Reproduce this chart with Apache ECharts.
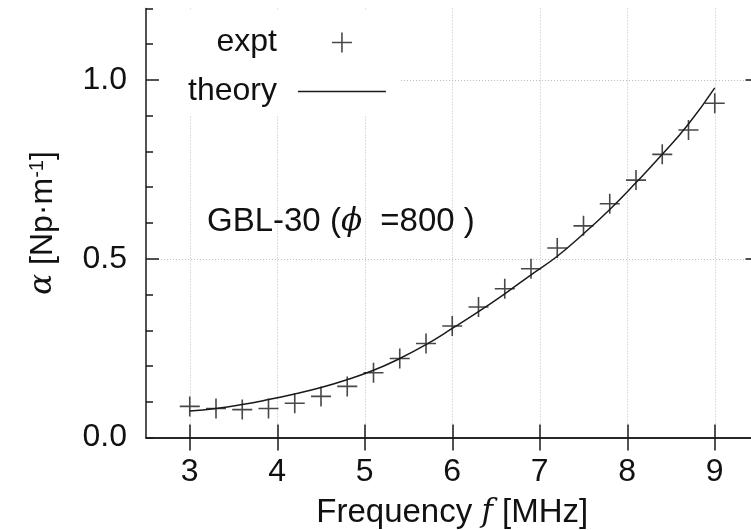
<!DOCTYPE html>
<html>
<head>
<meta charset="utf-8">
<script src="https://cdn.jsdelivr.net/npm/echarts@6/dist/echarts.min.js"></script>
<style>html,body{margin:0;padding:0;background:#fff}#c{width:751px;height:530px}</style>
</head>
<body>
<div id="c"></div>
<script>
// ---- data ----
const freq = [3.0, 3.3, 3.6, 3.9, 4.2, 4.5, 4.8, 5.1, 5.4, 5.7, 6.0, 6.3, 6.6, 6.9, 7.2, 7.5, 7.8, 8.1, 8.4, 8.7, 9.0];
const expt = [0.087, 0.081, 0.078, 0.081, 0.096, 0.115, 0.143, 0.181, 0.221, 0.263, 0.312, 0.365, 0.416, 0.472, 0.530, 0.592, 0.654, 0.720, 0.792, 0.860, 0.935];
const theory = [0.074, 0.081, 0.092, 0.106, 0.122, 0.140, 0.162, 0.188, 0.221, 0.260, 0.305, 0.352, 0.402, 0.455, 0.507, 0.570, 0.638, 0.713, 0.792, 0.877, 0.978];
const xTicks = [3, 4, 5, 6, 7, 8, 9];
const yLabels = [0, 0.5, 1.0];
const seriesNames = ['expt', 'theory'];
const annotation = 'GBL-30 (';
const annotation2 = '  =800 )';

// ---- layout ----
const L = 146, T = 8.5, W = 612.5, H = 429;
const xMin = 2.5, xMax = 9.5, yMin = 0, yMax = 1.2;
const pxPerX = W / (xMax - xMin);
const pxPerY = H / (yMax - yMin);
const ink = '#1a1a1a';
const font = 'Liberation Sans';

const chart = echarts.init(document.getElementById('c'), null, {renderer: 'canvas'});
const plus = 'path://M0,9.2H20V10.8H0Z M9.2,0H10.8V20H9.2Z';
const dash = 'path://M0,0H88V1.5H0Z';
const gridLine = {show: true, lineStyle: {color: '#bdbdbd', type: [1, 2], width: 1}};
const gb = {outerBoundsMode: 'none', containLabel: false};

const option = {
  backgroundColor: '#fff',
  animation: false,
  textStyle: {fontFamily: font},
  grid: [
    // 0: vertical grid lines (integer frequencies)
    Object.assign({left: L + (3 - xMin) * pxPerX - pxPerX, top: T, width: 8 * pxPerX, height: H}, gb),
    // 1: horizontal grid lines
    Object.assign({left: L, top: T + H - pxPerY, width: W, height: pxPerY}, gb),
    // 2: main plot
    Object.assign({left: L, top: T, width: W, height: H}, gb),
    // 3: major y ticks
    Object.assign({left: L, top: T, width: W, height: H}, gb)
  ],
  xAxis: [
    {gridIndex: 0, type: 'value', min: 2, max: 10, interval: 1, z: 0,
     axisLine: {show: false}, axisTick: {show: false}, axisLabel: {show: false},
     splitLine: Object.assign({showMinLine: false, showMaxLine: false}, gridLine)},
    {gridIndex: 1, type: 'value', show: false, min: 0, max: 1},
    {gridIndex: 2, type: 'value', position: 'bottom', min: xMin, max: xMax, interval: 0.5, z: 10,
     name: 'Frequency {f|f} [MHz]', nameLocation: 'middle', nameGap: 59,
     nameTextStyle: {fontSize: 33, color: '#111', fontFamily: font,
       rich: {f: {fontFamily: 'DejaVu Serif', fontStyle: 'italic', fontSize: 31, color: '#111'}}},
     axisLine: {show: true, lineStyle: {color: ink, width: 1.5}},
     axisTick: {show: true, inside: true, length: 13, customValues: xTicks, lineStyle: {color: ink, width: 1.5}},
     axisLabel: {show: true, customValues: xTicks, margin: 19, fontSize: 32, color: '#111', fontFamily: font,
       formatter: v => String(v)},
     splitLine: {show: false}},
    {gridIndex: 2, type: 'value', position: 'top', min: xMin, max: xMax, interval: 0.5, z: 10,
     axisLine: {show: true, lineStyle: {color: ink, width: 1.5}},
     axisTick: {show: true, inside: true, length: 13, customValues: xTicks, lineStyle: {color: ink, width: 1.5}},
     axisLabel: {show: false}, splitLine: {show: false}},
    {gridIndex: 3, type: 'value', show: false, min: xMin, max: xMax}
  ],
  yAxis: [
    {gridIndex: 0, type: 'value', show: false, min: 0, max: 1},
    {gridIndex: 1, type: 'value', min: 0, max: 1, interval: 0.5, z: 0,
     axisLine: {show: false}, axisTick: {show: false}, axisLabel: {show: false},
     splitLine: Object.assign({showMinLine: false, showMaxLine: true}, gridLine)},
    {gridIndex: 2, type: 'value', position: 'left', min: yMin, max: yMax, interval: 0.1, z: 10,
     name: '{a|α} [Np·m{sup|-1}]', nameLocation: 'middle', nameRotate: 90, nameGap: 87,
     nameTextStyle: {fontSize: 32, color: '#111', fontFamily: font,
       rich: {a: {fontFamily: 'DejaVu Serif', fontStyle: 'italic', fontSize: 31, color: '#111'},
              sup: {fontSize: 20, color: '#111', verticalAlign: 'top', fontFamily: font}}},
     axisLine: {show: true, lineStyle: {color: ink, width: 1.5}},
     axisTick: {show: true, inside: true, length: 7, lineStyle: {color: ink, width: 1.5}},
     axisLabel: {show: true, customValues: yLabels, margin: 19, fontSize: 32, color: '#111', fontFamily: font,
       formatter: v => v.toFixed(1)},
     splitLine: {show: false}},
    {gridIndex: 2, type: 'value', position: 'right', min: yMin, max: yMax, interval: 0.1, z: 10,
     axisLine: {show: true, lineStyle: {color: ink, width: 1.5}},
     axisTick: {show: true, inside: true, length: 7, lineStyle: {color: ink, width: 1.5}},
     axisLabel: {show: false}, splitLine: {show: false}},
    {gridIndex: 3, type: 'value', position: 'left', min: yMin, max: yMax, interval: 0.1, z: 10,
     axisLine: {show: false},
     axisTick: {show: true, inside: true, length: 13, customValues: [0.5, 1.0], lineStyle: {color: ink, width: 1.5}},
     axisLabel: {show: false}, splitLine: {show: false}},
    {gridIndex: 3, type: 'value', position: 'right', min: yMin, max: yMax, interval: 0.1, z: 10,
     axisLine: {show: false},
     axisTick: {show: true, inside: true, length: 13, customValues: [0.5, 1.0], lineStyle: {color: ink, width: 1.5}},
     axisLabel: {show: false}, splitLine: {show: false}}
  ],
  legend: {
    orient: 'vertical', align: 'right', selectedMode: false, z: 4,
    left: L + 1, top: T + 1,
    padding: [17, 14, 8, 41],
    backgroundColor: '#fff',
    itemWidth: 88, itemHeight: 20, itemGap: 17,
    textStyle: {fontSize: 32, color: '#111', fontFamily: font, padding: [0, 16, 0, 0]},
    data: [{name: seriesNames[0]}, {name: seriesNames[1], icon: dash}]
  },
  graphic: [{
    type: 'text', z: 6, x: 207, y: 222,
    style: {
      text: annotation + '{p|ϕ}' + annotation2,
      fill: '#111', font: '33px "Liberation Sans"', verticalAlign: 'middle',
      rich: {p: {fontFamily: 'DejaVu Serif', fontStyle: 'italic', fontSize: 31, fill: '#111'}}
    }
  }],
  series: [
    {name: seriesNames[0], type: 'scatter', xAxisIndex: 2, yAxisIndex: 2, z: 12,
     symbol: plus, symbolSize: 20, itemStyle: {color: ink},
     data: freq.map((f, i) => [f, expt[i]])},
    {name: seriesNames[1], type: 'line', xAxisIndex: 2, yAxisIndex: 2, z: 11,
     smooth: true, symbol: 'none', showSymbol: false,
     lineStyle: {color: ink, width: 1.5}, itemStyle: {color: ink},
     data: freq.map((f, i) => [f, theory[i]])}
  ]
};
chart.setOption(option);
</script>
</body>
</html>
